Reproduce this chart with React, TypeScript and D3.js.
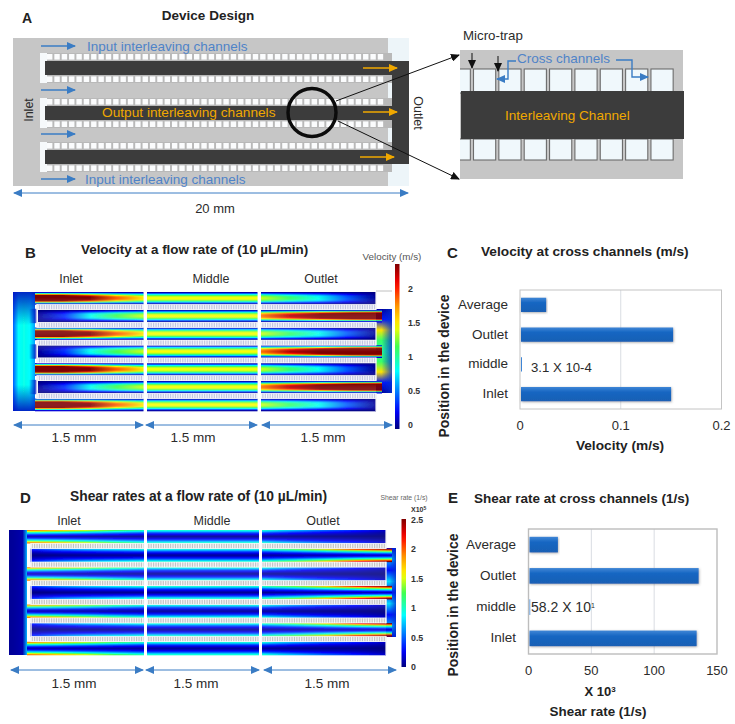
import React, { useMemo } from "react";
import * as d3 from "d3";

// Bar charts (panels C and E)
const positions = ["Average", "Outlet", "middle", "Inlet"];
const velocityValues = [0.025, 0.151, 0.00031, 0.149];
const velocityTicks = [0, 0.1, 0.2];
const shearValues = [22.6, 134.6, 0.582, 133];
const shearTicks = [0, 50, 100, 150];

// Colour bars
const velocityBarTicks = [0, 0.5, 1, 1.5, 2];
const shearBarTicks = [0, 0.5, 1, 1.5, 2, 2.5];
const jetColors = ["#00007f", "#0000ff", "#00ffff", "#40ff50", "#ffff00", "#ff9000", "#ff0000", "#7f0000"];
const jetStops = [0, 0.11, 0.35, 0.5, 0.62, 0.75, 0.88, 1];

// Centre-line velocity along each section, estimated from panel B colours
const velInput = [
  [3.0, 3.0, 2.4, 1.85, 1.5],
  [1.42, 1.42, 1.42],
  [1.35, 1.1, 0.85, 0.45, 0.05],
];
const velOutput = [
  [0.05, 0.35, 0.85, 1.15, 1.35],
  [1.42, 1.42, 1.42],
  [1.8, 2.2, 2.7, 3.2, 3.4],
];
const velProfile = [0.06, 0.3, 0.55, 0.78, 0.92, 0.98, 1, 0.98, 0.92, 0.78, 0.55, 0.3, 0.06];
const velPlenum = [0.45, 0.8, 0.85, 0.8, 0.6];
const velCollector = [0.05, 0.3, 1.5, 1.1, 1.0, 1.1, 1.5, 0.3, 0.05];

// Wall shear rate along each section, estimated from panel D colours
const shearInput = [
  [1.9, 1.7, 1.45, 1.2, 1.0],
  [0.95, 0.95, 0.95],
  [0.95, 0.7, 0.5, 0.35, 0.15],
];
const shearOutput = [
  [0.35, 0.6, 0.75, 0.85, 0.95],
  [0.95, 0.95, 0.95],
  [1.0, 1.3, 1.7, 2.2, 2.6],
];
const shearProfile = [1, 0.78, 0.55, 0.38, 0.24, 0.13, 0.06, 0.13, 0.24, 0.38, 0.55, 0.78, 1];
const shearPlenum = [0.05, 0.06, 0.08, 0.1, 0.7];
const shearCollector = [0.2, 0.7, 0.3, 0.8, 0.3, 0.8, 0.3, 0.7, 0.2];

const BLUE = "#3a7cc4";
const ORANGE = "#f0a800";
const DARK = "#3c3c3c";
const GREY = "#c6c6c6";
const TEXT = "#2b2b2b";
const LABEL_BLUE = "#4f83c8";

function jetScale(max: number) {
  return d3
    .scaleLinear<string>()
    .domain(jetStops.map((s) => s * max))
    .range(jetColors)
    .clamp(true);
}

interface HeatProps {
  id: string;
  sections: [number, number][];
  top: number;
  bottom: number;
  trapH: number;
  plenum: [number, number];
  collector: [number, number];
  collectorY: [number, number];
  wallX: number;
  max: number;
  input: number[][];
  output: number[][];
  profile: number[];
  plenumValues: number[];
  collectorValues: number[];
  plenumFade: number;
  stripeColor: string;
}

// One simulation map: 7 channels split in lanes, each lane with a gradient along the flow
function Heatmap(p: HeatProps) {
  const color = useMemo(() => jetScale(p.max), [p.max]);
  const rows = d3.range(7);
  const pitch = (p.bottom - p.top + p.trapH) / 7;
  const channelH = pitch - p.trapH;
  const rowY = d3.scaleLinear().domain([0, 1]).range([p.top, p.top + pitch]);
  const laneH = channelH / p.profile.length;
  const gradId = (kind: string, s: number, l: number) => `${p.id}-${kind}-${s}-${l}`;

  const gradients: React.ReactNode[] = [];
  (["in", "out"] as const).forEach((kind) => {
    const series = kind === "in" ? p.input : p.output;
    series.forEach((stations, s) => {
      p.profile.forEach((f, l) => {
        gradients.push(
          <linearGradient key={gradId(kind, s, l)} id={gradId(kind, s, l)}>
            {stations.map((v, i) => (
              <stop key={i} offset={i / (stations.length - 1)} stopColor={color(v * f)} />
            ))}
          </linearGradient>
        );
      });
    });
  });

  const lastX = p.sections[2][1];

  return (
    <g>
      <defs>
        {gradients}
        <pattern id={`${p.id}-stripes`} width={1.7} height={4} patternUnits="userSpaceOnUse">
          <rect width={1.7} height={4} fill="#f8f8fc" />
          <rect width={0.8} height={4} fill={p.stripeColor} />
        </pattern>
        <linearGradient id={`${p.id}-plenum`}>
          {p.plenumValues.map((v, i) => (
            <stop key={i} offset={i / (p.plenumValues.length - 1)} stopColor={color(v)} />
          ))}
        </linearGradient>
        <linearGradient id={`${p.id}-fade`} x1={0} y1={0} x2={0} y2={1}>
          <stop offset={0} stopColor="#0010c0" stopOpacity={p.plenumFade} />
          <stop offset={0.28} stopColor="#0010c0" stopOpacity={0} />
          <stop offset={0.78} stopColor="#0010c0" stopOpacity={0} />
          <stop offset={1} stopColor="#0010c0" stopOpacity={p.plenumFade} />
        </linearGradient>
        <linearGradient id={`${p.id}-notch`}>
          <stop offset={0} stopColor="#0018c0" stopOpacity={0} />
          <stop offset={1} stopColor="#0018c0" stopOpacity={p.plenumFade} />
        </linearGradient>
        <linearGradient id={`${p.id}-collector`} x1={0} y1={0} x2={0} y2={1}>
          {p.collectorValues.map((v, i) => (
            <stop key={i} offset={i / (p.collectorValues.length - 1)} stopColor={color(v)} />
          ))}
        </linearGradient>
        <linearGradient id={`${p.id}-edge`}>
          <stop offset={0.35} stopColor="#0030d0" stopOpacity={0} />
          <stop offset={1} stopColor="#0030d0" stopOpacity={0.8} />
        </linearGradient>
        <filter id={`${p.id}-soft`} x="-2%" y="-2%" width="104%" height="104%">
          <feGaussianBlur stdDeviation={0.55} />
        </filter>
        <filter id={`${p.id}-softer`} x="-2%" y="-2%" width="104%" height="104%">
          <feGaussianBlur stdDeviation={0.25} />
        </filter>
      </defs>
      <g filter={`url(#${p.id}-soft)`}>
        {[`url(#${p.id}-plenum)`, `url(#${p.id}-fade)`].map((fill) => (
          <rect
            key={fill}
            x={p.plenum[0]}
            y={p.top}
            width={p.plenum[1] - p.plenum[0]}
            height={p.bottom - p.top}
            fill={fill}
          />
        ))}
        {rows
          .filter((r) => r % 2 === 1)
          .map((r) => (
            <rect
              key={r}
              x={p.plenum[1] - 6}
              y={rowY(r) - 1}
              width={8}
              height={channelH + 2}
              fill={`url(#${p.id}-notch)`}
            />
          ))}
        {[`url(#${p.id}-collector)`, `url(#${p.id}-edge)`].map((fill) => (
          <rect
            key={fill}
            x={p.collector[0]}
            y={p.collectorY[0]}
            width={p.collector[1] - p.collector[0]}
            height={p.collectorY[1] - p.collectorY[0]}
            fill={fill}
          />
        ))}
        {p.sections.map(([x0, x1], s) =>
          rows.map((r) => {
            const kind = r % 2 === 0 ? "in" : "out";
            const left = s === 0 ? p.plenum[1] + (kind === "out" ? 3 : 0) : x0;
            const right = s === 2 && kind === "out" ? p.collector[0] + 6 : x1;
            return (
              <g key={`${s}-${r}`}>
                {p.profile.map((_, l) => (
                  <rect
                    key={l}
                    x={left}
                    y={rowY(r) + l * laneH}
                    width={right - left}
                    height={laneH + 0.3}
                    fill={`url(#${gradId(kind, s, l)})`}
                  />
                ))}
              </g>
            );
          })
        )}
      </g>
      <g filter={`url(#${p.id}-softer)`}>
        {p.sections.map(([x0, x1], s) =>
          rows.slice(0, 6).map((r) => (
            <rect
              key={`${s}-${r}`}
              x={s === 0 ? p.wallX : x0}
              y={rowY(r) + channelH + 0.2}
              width={x1 - (s === 0 ? p.wallX : x0)}
              height={p.trapH - 0.4}
              fill={`url(#${p.id}-stripes)`}
              stroke="#fafafa"
              strokeWidth={0.7}
            />
          ))
        )}
      </g>
      {/* white walls around the closed ends of the channels */}
      {rows
        .filter((r) => r % 2 === 1)
        .map((r) => (
          <line
            key={r}
            x1={p.wallX}
            x2={p.wallX}
            y1={rowY(r) - p.trapH}
            y2={rowY(r) + channelH + p.trapH}
            stroke="#f2f2f2"
            strokeWidth={1.4}
          />
        ))}
      {rows
        .filter((r) => r % 2 === 0)
        .map((r) => (
          <line
            key={r}
            x1={lastX}
            x2={lastX}
            y1={rowY(r) - (r === 0 ? 0 : p.trapH)}
            y2={rowY(r) + channelH + (r === 6 ? 0 : p.trapH)}
            stroke="#f2f2f2"
            strokeWidth={1.2}
          />
        ))}
    </g>
  );
}

function ColorBar(props: {
  id: string;
  x: number;
  width: number;
  y0: number;
  y1: number;
  max: number;
  ticks: number[];
  labelX: number;
  labelRange: [number, number];
}) {
  const color = jetScale(props.max);
  const y = d3.scaleLinear().domain(d3.extent(props.ticks) as [number, number]).range(props.labelRange);
  const samples = d3.range(0, 1.0001, 0.05);
  return (
    <g>
      <defs>
        <linearGradient id={props.id} x1={0} y1={1} x2={0} y2={0}>
          {samples.map((t) => (
            <stop key={t} offset={t} stopColor={color(t * props.max)} />
          ))}
        </linearGradient>
      </defs>
      <rect
        x={props.x}
        y={props.y0}
        width={props.width}
        height={props.y1 - props.y0}
        fill={`url(#${props.id})`}
      />
      {props.ticks.map((t) => (
        <text key={t} x={props.labelX} y={y(t) + 3} fontSize={8.8} fontWeight="bold" fill="#333">
          {t}
        </text>
      ))}
    </g>
  );
}

function BarPanel(props: {
  id: string;
  values: number[];
  ticks: number[];
  domainMax: number;
  box: [number, number, number, number];
  padding: number;
  border: string;
  borderWidth: number;
  tickY: number;
  catX: number;
  minBar: number;
}) {
  const [x0, y0, x1, y1] = props.box;
  const x = d3.scaleLinear().domain([0, props.domainMax]).range([x0, x1]);
  const y = d3
    .scaleBand<string>()
    .domain(positions)
    .range([y0, y1])
    .paddingInner(props.padding)
    .paddingOuter(props.padding / 2);
  return (
    <g>
      <defs>
        <linearGradient id={`${props.id}-bar`} x1={0} y1={0} x2={0} y2={1}>
          <stop offset={0} stopColor="#3f86d6" />
          <stop offset={0.35} stopColor="#1766c2" />
          <stop offset={1} stopColor="#1a60b4" />
        </linearGradient>
        <filter id={`${props.id}-shadow`} x="-5%" y="-20%" width="110%" height="150%">
          <feDropShadow dx={0.6} dy={0.8} stdDeviation={0.8} floodColor="#555" floodOpacity={0.5} />
        </filter>
      </defs>
      {props.ticks.slice(1, -1).map((t) => (
        <line key={t} x1={x(t)} x2={x(t)} y1={y0} y2={y1} stroke="#d9dde2" strokeWidth={1} />
      ))}
      <rect
        x={x0}
        y={y0}
        width={x1 - x0}
        height={y1 - y0}
        fill="none"
        stroke={props.border}
        strokeWidth={props.borderWidth}
      />
      {positions.map((c, i) => {
        const w = Math.max(x(props.values[i]) - x0, props.minBar);
        return (
          <g key={c}>
            <rect
              x={x0 + 1}
              y={y(c)}
              width={w}
              height={y.bandwidth()}
              fill={w > 2 ? `url(#${props.id}-bar)` : "#3f86d6"}
              filter={w > 2 ? `url(#${props.id}-shadow)` : undefined}
            />
            <text
              x={props.catX}
              y={(y(c) as number) + y.bandwidth() / 2 + 4}
              textAnchor="end"
              fontSize={13.5}
              fill={TEXT}
            >
              {c}
            </text>
          </g>
        );
      })}
      {props.ticks.map((t) => (
        <text key={t} x={x(t)} y={props.tickY} textAnchor="middle" fontSize={13} fill={TEXT}>
          {t}
        </text>
      ))}
    </g>
  );
}

function Arrow(props: { d: string; color: string; width?: number; both?: boolean }) {
  const m = props.color === BLUE ? "blue" : props.color === ORANGE ? "orange" : "black";
  return (
    <path
      d={props.d}
      fill="none"
      stroke={props.color}
      strokeWidth={props.width ?? 1.2}
      markerEnd={`url(#head-${m})`}
      markerStart={props.both ? `url(#head-${m})` : undefined}
    />
  );
}

function Marker({ id, color }: { id: string; color: string }) {
  return (
    <marker
      id={id}
      markerUnits="userSpaceOnUse"
      markerWidth={10}
      markerHeight={8}
      refX={8}
      refY={4}
      orient="auto-start-reverse"
    >
      <path d="M0,0 L9,4 L0,8 Z" fill={color} />
    </marker>
  );
}

const wells = [53, 98, 142];
const wellCells = d3.range(47, 384, 7.35);
const zoomCells = d3.range(0, 9);
const zoomCell = d3.scaleLinear().domain([0, 1]).range([473.5, 498.85]);

function DevicePanel() {
  return (
    <g>
      <rect x={388} y={38} width={21} height={148} fill="#edf5f9" />
      <rect x={13} y={38} width={375} height={148} fill={GREY} />
      {wells.map((w) => (
        <g key={w}>
          <rect x={40} y={w} width={352} height={30} fill="#f6f9fb" />
          <rect x={47} y={w} width={345} height={30} fill="#b9b9b9" />
          {wellCells.map((c) => (
            <g key={c}>
              <rect x={c} y={w + 1} width={5.4} height={5.6} fill="#fbfcfd" />
              <rect x={c} y={w + 23.4} width={5.4} height={5.6} fill="#fbfcfd" />
            </g>
          ))}
          <rect x={45} y={w + 8} width={347} height={14} fill={DARK} />
        </g>
      ))}
      <rect x={392} y={61} width={17} height={103} fill={DARK} />
      <circle cx={312} cy={112.5} r={24} fill="none" stroke="#0b0b0b" strokeWidth={3.4} />
      <Arrow d="M336,101 L459,55" color="#111111" width={1} />
      <Arrow d="M338,121 L459,179" color="#111111" width={1} />

      {[46, 90, 134, 179].map((y) => (
        <Arrow key={y} d={`M41,${y} H75`} color={BLUE} width={1.5} />
      ))}
      <Arrow d="M363,68 H397" color={ORANGE} width={1.5} />
      <Arrow d="M363,112 H397" color={ORANGE} width={1.5} />
      <Arrow d="M360,157 H394" color={ORANGE} width={1.5} />

      <text x={87} y={50.5} fontSize={13.5} fill={LABEL_BLUE}>Input  interleaving  channels</text>
      <text x={85} y={184} fontSize={13.5} fill={LABEL_BLUE}>Input  interleaving  channels</text>
      <text x={102} y={117} fontSize={13.7} fill={ORANGE}>Output interleaving  channels</text>
      <text transform="translate(33,110) rotate(-90)" textAnchor="middle" fontSize={12.5} fill={TEXT}>Inlet</text>
      <text transform="translate(414,113) rotate(90)" textAnchor="middle" fontSize={12.5} fill={TEXT}>Outlet</text>
      <Arrow d="M14,193 H408" color={BLUE} width={1} both />
      <text x={215} y={213} textAnchor="middle" fontSize={13} fill={TEXT}>20 mm</text>

      {/* enlarged view */}
      <clipPath id="zoom-clip">
        <rect x={460} y={50} width={223} height={129} />
      </clipPath>
      <rect x={460} y={50} width={223} height={129} fill={GREY} />
      <g clipPath="url(#zoom-clip)">
        {zoomCells.map((i) => (
          <g key={i}>
            {[69, 139].map((cy) => (
              <rect
                key={cy}
                x={zoomCell(i - 1)}
                y={cy}
                width={22.2}
                height={cy === 69 ? 24 : 21}
                fill="#f0f8fc"
                stroke="#6c6c6c"
                strokeWidth={1.1}
              />
            ))}
          </g>
        ))}
      </g>
      <rect x={461} y={91} width={223} height={48} fill={DARK} />
      <text x={505} y={120} fontSize={13.6} fill={ORANGE}>Interleaving  Channel</text>
      <text x={463} y={40} fontSize={13.3} fill={TEXT}>Micro-trap</text>
      <text x={517} y={63} fontSize={13.5} fill={LABEL_BLUE}>Cross channels</text>
      <Arrow d="M472,53 V68" color="#111111" width={1} />
      <Arrow d="M498,56 V71" color="#111111" width={1} />
      <Arrow d="M516,61 H508 V79 H497" color={BLUE} width={1.4} />
      <Arrow d="M616,60 H632 V77 H648" color={BLUE} width={1.4} />
    </g>
  );
}

function SpanArrows(props: { y: number; spans: [number, number][]; labels: number[]; labelY: number }) {
  return (
    <g>
      {props.spans.map(([a, b], i) => (
        <g key={i}>
          <Arrow d={`M${a},${props.y} H${b}`} color={BLUE} width={1} both />
          <text x={props.labels[i]} y={props.labelY} textAnchor="middle" fontSize={13.5} fill={TEXT}>
            1.5 mm
          </text>
        </g>
      ))}
    </g>
  );
}

export default function App() {
  return (
    <svg
      width={735}
      height={724}
      viewBox="0 0 735 724"
      style={{ position: "absolute", left: 0, top: 0, fontFamily: "'Liberation Sans', Arial, sans-serif" }}
    >
      <defs>
        <Marker id="head-blue" color={BLUE} />
        <Marker id="head-orange" color={ORANGE} />
        <Marker id="head-black" color="#111111" />
      </defs>
      <rect width={735} height={724} fill="#ffffff" />

      {/* A */}
      <text x={22} y={23} fontSize={14} fontWeight="bold" fill="#222">A</text>
      <text x={208} y={20} textAnchor="middle" fontSize={13.5} fontWeight="bold" fill="#222">Device Design</text>
      <DevicePanel />

      {/* B */}
      <text x={25} y={258} fontSize={15} fontWeight="bold" fill="#222">B</text>
      <text x={81} y={254} fontSize={13.4} fontWeight="bold" fill="#222">Velocity at a flow rate of (10 µL/min)</text>
      <text x={392} y={260} textAnchor="middle" fontSize={9.8} fill="#555">Velocity (m/s)</text>
      {[["Inlet", 71], ["Middle", 211], ["Outlet", 321]].map(([t, x]) => (
        <text key={t as string} x={x as number} y={283} textAnchor="middle" fontSize={12.5} fill={TEXT}>{t}</text>
      ))}
      <Heatmap
        id="vel"
        sections={[[35, 143.5], [147, 257.5], [261, 376]]}
        top={292}
        bottom={411}
        trapH={5.4}
        plenum={[13, 35]}
        collector={[376, 392]}
        collectorY={[309, 393]}
        wallX={37}
        max={2.3}
        input={velInput}
        output={velOutput}
        profile={velProfile}
        plenumValues={velPlenum}
        collectorValues={velCollector}
        plenumFade={0.9}
        stripeColor="#bcc0de"
      />
      <line x1={376} x2={392} y1={291} y2={291} stroke="#b0b0b0" strokeWidth={0.8} />
      <ColorBar
        id="vel-bar"
        x={395}
        width={4.5}
        y0={264}
        y1={429}
        max={2.35}
        ticks={velocityBarTicks}
        labelX={408}
        labelRange={[425, 289]}
      />
      <SpanArrows y={425} spans={[[14, 143], [146, 257], [262, 392]]} labels={[74, 193, 323]} labelY={442} />

      {/* C */}
      <text x={447} y={258} fontSize={15} fontWeight="bold" fill="#222">C</text>
      <text x={481} y={256} fontSize={13.7} fontWeight="bold" fill="#222">Velocity at cross  channels (m/s)</text>
      <BarPanel
        id="vel-chart"
        values={velocityValues}
        ticks={velocityTicks}
        domainMax={0.2}
        box={[520, 290, 721.5, 409]}
        padding={0.52}
        border="#c4c4c4"
        borderWidth={1}
        tickY={430}
        catX={508}
        minBar={1}
      />
      <text x={531} y={372} fontSize={13.2} fill={TEXT}>3.1 X  10-4</text>
      <text x={620} y={450} textAnchor="middle" fontSize={13.7} fontWeight="bold" fill="#222">Velocity (m/s)</text>
      <text transform="translate(449,366) rotate(-90)" textAnchor="middle" fontSize={13.9} fontWeight="bold" fill="#222">Position in the device</text>

      {/* D */}
      <text x={20} y={503} fontSize={15} fontWeight="bold" fill="#222">D</text>
      <text x={70} y={501} fontSize={13.8} fontWeight="bold" fill="#222">Shear rates at a flow rate of (10 µL/min)</text>
      <text x={404} y={500} textAnchor="middle" fontSize={6.8} fill="#666">Shear rate (1/s)</text>
      <text x={411} y={512} fontSize={7} fontWeight="bold" fill="#333">X10<tspan dy={-2} fontSize={5}>5</tspan></text>
      {[["Inlet", 69], ["Middle", 212], ["Outlet", 323]].map(([t, x]) => (
        <text key={t as string} x={x as number} y={525} textAnchor="middle" fontSize={12.5} fill={TEXT}>{t}</text>
      ))}
      <Heatmap
        id="shear"
        sections={[[27, 144], [147, 259], [262, 386]]}
        top={530}
        bottom={655}
        trapH={5.4}
        plenum={[9, 27]}
        collector={[386, 396]}
        collectorY={[548, 637]}
        wallX={31}
        max={2.5}
        input={shearInput}
        output={shearOutput}
        profile={shearProfile}
        plenumValues={shearPlenum}
        collectorValues={shearCollector}
        plenumFade={0}
        stripeColor="#bdbdbd"
      />
      <ColorBar
        id="shear-bar"
        x={401.5}
        width={4.5}
        y0={519}
        y1={667}
        max={2.5}
        ticks={shearBarTicks}
        labelX={411}
        labelRange={[667, 520]}
      />
      <SpanArrows y={670} spans={[[11, 143], [146, 259], [264, 396]]} labels={[74, 196, 327]} labelY={688} />

      {/* E */}
      <text x={448} y={503} fontSize={15} fontWeight="bold" fill="#222">E</text>
      <text x={474} y={503} fontSize={13.5} fontWeight="bold" fill="#222">Shear rate at cross  channels (1/s)</text>
      <BarPanel
        id="shear-chart"
        values={shearValues}
        ticks={shearTicks}
        domainMax={150}
        box={[528.5, 529, 717, 654]}
        padding={0.5}
        border="#bdbdbd"
        borderWidth={1.4}
        tickY={675}
        catX={516}
        minBar={0}
      />
      <text x={531} y={612} fontSize={14} fill={TEXT}>58.2 X 10<tspan dy={-4} fontSize={7}>1</tspan></text>
      <text x={600} y={696} textAnchor="middle" fontSize={13} fontWeight="bold" fill="#222">X 10<tspan dy={-4} fontSize={8}>3</tspan></text>
      <text x={598} y={716} textAnchor="middle" fontSize={13.4} fontWeight="bold" fill="#222">Shear rate (1/s)</text>
      <text transform="translate(458,605) rotate(-90)" textAnchor="middle" fontSize={13.9} fontWeight="bold" fill="#222">Position in the device</text>
    </svg>
  );
}
